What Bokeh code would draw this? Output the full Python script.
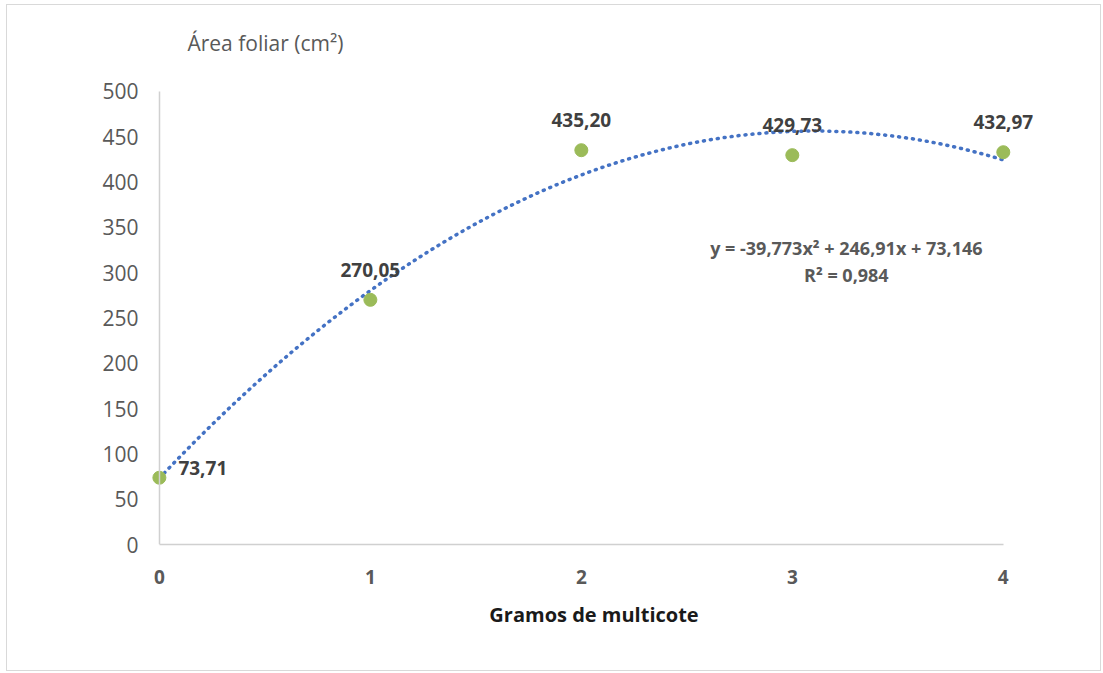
import numpy as np
from bokeh.plotting import figure
from bokeh.models import ColumnDataSource, Range1d, FixedTicker, Label, LinearAxis
from bokeh.core.properties import value
from bokeh.embed import file_html
from bokeh.resources import INLINE

# ---- data ----
x_vals = [0, 1, 2, 3, 4]
y_vals = [73.71, 270.05, 435.20, 429.73, 432.97]
x_ticks = [0, 1, 2, 3, 4]
y_ticks = [0, 50, 100, 150, 200, 250, 300, 350, 400, 450, 500]
y_title = "Área foliar (cm²)"
x_title = "Gramos de multicote"
eq_text = "y = -39,773x² + 246,91x + 73,146"
r2_text = "R² = 0,984"

FONT = "Open Sans"
GRAY = "#595959"
AXIS_GRAY = "#d0d0d0"

# polynomial trendline fitted from the data (order 2)
coef = np.polyfit(x_vals, y_vals, 2)
xs_fit = np.linspace(min(x_vals), max(x_vals), 200)
ys_fit = np.polyval(coef, xs_fit)

labels = [f"{v:.2f}".replace(".", ",") for v in y_vals]

# frame extends above 500 so that the axis title can sit inside it
p = figure(width=1095, height=667,
           x_range=Range1d(-0.08, 4.2), y_range=Range1d(0, 567.3),
           output_backend="svg", toolbar_location=None,
           min_border_left=135, min_border_right=57,
           min_border_top=25, min_border_bottom=128)
p.outline_line_color = None
p.grid.visible = False
p.styles = {"border": "1px solid #d9d9d9", "margin-left": "6px",
            "margin-top": "4px"}

# y axis title placed at top-left, above the axis
p.add_layout(Label(x=0.133, y=554, text=y_title, text_align="left",
                   text_baseline="middle", text_font=FONT,
                   text_font_size="21px", text_color=GRAY))

# y axis: line drawn at x = 0
yax = p.yaxis[0]
yax.fixed_location = 0
yax.bounds = (0, 500)
yax.ticker = FixedTicker(ticks=y_ticks)
yax.axis_line_color = AXIS_GRAY
yax.axis_line_width = 1.5
yax.major_tick_in = 0
yax.major_tick_out = 0
yax.minor_tick_in = 0
yax.minor_tick_out = 0
yax.major_label_text_alpha = 0
yax.major_label_text_font_size = "20px"

# y axis labels at frame left
ylab = LinearAxis(ticker=FixedTicker(ticks=y_ticks), bounds=(0, 500))
ylab.axis_line_color = None
ylab.major_tick_in = 0
ylab.major_tick_out = 0
ylab.minor_tick_in = 0
ylab.minor_tick_out = 0
ylab.major_label_standoff = 4
ylab.major_label_text_font = FONT
ylab.major_label_text_font_size = "21px"
ylab.major_label_text_color = GRAY
p.add_layout(ylab, "left")

# x axis
xax = p.xaxis[0]
xax.bounds = (0, 4)
xax.ticker = FixedTicker(ticks=x_ticks)
xax.axis_line_color = AXIS_GRAY
xax.axis_line_width = 1.5
xax.major_tick_in = 0
xax.major_tick_out = 0
xax.minor_tick_in = 0
xax.minor_tick_out = 0
xax.major_label_standoff = 25
xax.major_label_text_font = FONT
xax.major_label_text_font_size = "19px"
xax.major_label_text_font_style = "bold"
xax.major_label_text_color = GRAY
xax.axis_label = x_title
xax.axis_label_text_font = FONT
xax.axis_label_text_font_size = "20px"
xax.axis_label_text_font_style = "bold"
xax.axis_label_text_color = "#1a1a1a"
xax.axis_label_standoff = 14

# trendline
p.line(xs_fit, ys_fit, line_color="#4472C4", line_width=3.5,
       line_dash="1 6", line_cap="round")

# points
src = ColumnDataSource(dict(x=x_vals, y=y_vals, lab=labels))
p.scatter("x", "y", source=src, size=13, fill_color="#9BBB59",
          line_color="#9BBB59")

# data labels: first to the right, others above
src_first = ColumnDataSource(dict(x=x_vals[:1], y=y_vals[:1], lab=labels[:1]))
src_rest = ColumnDataSource(dict(x=x_vals[1:], y=y_vals[1:], lab=labels[1:]))
p.text("x", "y", text="lab", source=src_first, x_offset=19, y_offset=-10,
       text_align="left", text_baseline="middle", text_font=value(FONT),
       text_font_size="19px", text_font_style="bold", text_color="#404040")
p.text("x", "y", text="lab", source=src_rest, x_offset=0, y_offset=-30,
       text_align="center", text_baseline="middle", text_font=value(FONT),
       text_font_size="19px", text_font_style="bold", text_color="#404040")

# equation
p.add_layout(Label(x=3.256, y=326.7, text=eq_text, text_align="center",
                   text_baseline="middle", text_font=FONT,
                   text_font_size="18px", text_font_style="bold",
                   text_color=GRAY))
p.add_layout(Label(x=3.256, y=297, text=r2_text, text_align="center",
                   text_baseline="middle", text_font=FONT,
                   text_font_size="18px", text_font_style="bold",
                   text_color=GRAY))

open("out.html", "w").write(file_html(p, INLINE))
